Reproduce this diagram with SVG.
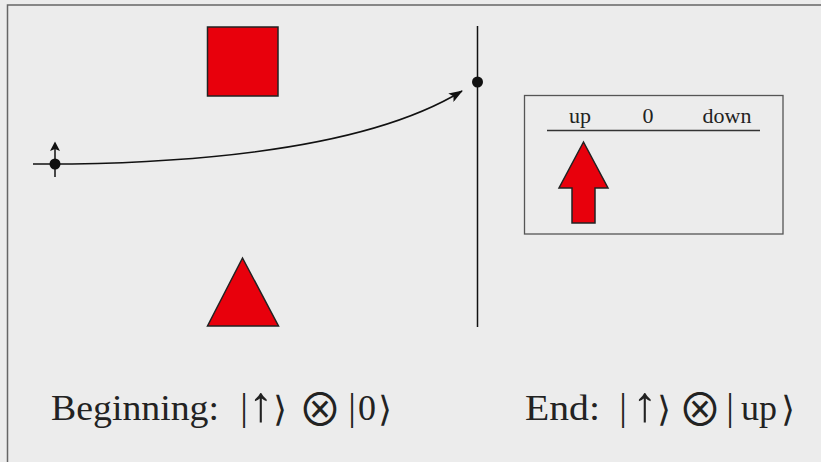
<svg xmlns="http://www.w3.org/2000/svg" width="821" height="462" viewBox="0 0 821 462">
<defs>
<style>
.red{fill:#e8000c;stroke:#222;stroke-width:1.5;stroke-linejoin:miter}
.ln{stroke:#111;stroke-width:1.5;fill:none}
.big{font-family:"Liberation Serif","DejaVu Serif",serif;font-size:36px;fill:#222}
.sym{font-family:"DejaVu Sans","DejaVu Serif",sans-serif;font-size:35px;fill:#222;text-anchor:middle}
.otimes{font-family:"Noto Sans CJK JP","DejaVu Serif",serif;font-size:44px;fill:#222;text-anchor:middle}
.arr{font-family:"Liberation Serif","DejaVu Serif",serif;font-size:50px;fill:#222;text-anchor:middle}
.bar{font-family:"Liberation Serif","DejaVu Serif",serif;font-size:38px;fill:#222;text-anchor:middle}
.small{font-family:"Liberation Serif","DejaVu Serif",serif;font-size:22px;fill:#222}
</style>
<marker id="ah" markerWidth="14" markerHeight="10" refX="13" refY="5" orient="auto" markerUnits="userSpaceOnUse">
<path d="M0,0 L14,5 L0,10 L3,5 Z" fill="#111"/>
</marker>
</defs>
<rect x="0" y="0" width="821" height="462" fill="#ececec"/>
<rect x="7.5" y="5" width="830" height="470" fill="none" stroke="#666" stroke-width="1.5"/>

<g id="square"><rect class="red" x="207.5" y="27" width="70.5" height="69"/></g>
<g id="triangle"><polygon class="red" points="242.5,258 278.5,326 207.5,326"/></g>
<g id="screen"><line class="ln" x1="477.5" y1="26" x2="477.5" y2="327"/><circle cx="477.5" cy="82" r="5.5" fill="#111"/></g>
<g id="particle">
<line class="ln" x1="33" y1="164" x2="72" y2="164"/>
<line class="ln" x1="55" y1="164" x2="55" y2="177"/>
<line class="ln" x1="55" y1="164" x2="55" y2="146"/>
<polygon points="55,141.5 60,151 55,149 50,151" fill="#111"/>
<circle cx="55" cy="164" r="5.5" fill="#111"/>
</g>
<g id="connectors">
<path class="ln" d="M72,164 C250,161 385,138 462,91" stroke-width="2" marker-end="url(#ah)"/>
</g>
<g id="detector">
<rect x="524.5" y="95.5" width="258.5" height="138.5" fill="none" stroke="#555" stroke-width="1.3"/>
<line x1="547" y1="130.5" x2="760" y2="130.5" stroke="#333" stroke-width="1.3"/>
<text class="small" x="580" y="123" text-anchor="middle">up</text>
<text class="small" x="648" y="123" text-anchor="middle">0</text>
<text class="small" x="727" y="123" text-anchor="middle">down</text>
<polygon class="red" points="583.5,142 608,188 595,188 595,223 572,223 572,188 559,188"/>
</g>
<g id="labels">
<text class="big" x="51" y="420" textLength="168" lengthAdjust="spacingAndGlyphs">Beginning:</text>
<text class="bar" x="244" y="420">|</text>
<text class="arr" x="261" y="421">↑</text>
<text class="sym" x="280" y="421">⟩</text>
<text class="otimes" x="320" y="426">⊗</text>
<text class="bar" x="352" y="420">|</text>
<text class="big" x="367" y="420" text-anchor="middle">0</text>
<text class="sym" x="385" y="421">⟩</text>
<text class="big" x="525" y="420" textLength="75" lengthAdjust="spacingAndGlyphs">End:</text>
<text class="bar" x="623" y="420">|</text>
<text class="arr" x="645" y="421">↑</text>
<text class="sym" x="664" y="421">⟩</text>
<text class="otimes" x="700" y="426">⊗</text>
<text class="bar" x="730" y="420">|</text>
<text class="big" x="759" y="420" text-anchor="middle">up</text>
<text class="sym" x="788" y="421">⟩</text>
</g>
</svg>
